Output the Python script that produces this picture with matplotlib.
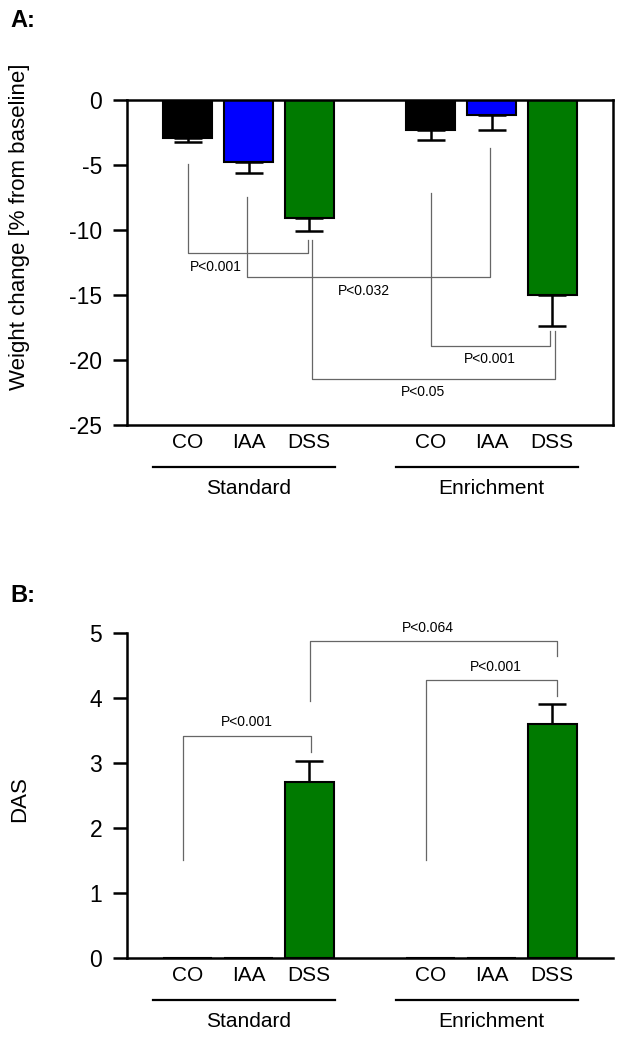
import matplotlib
matplotlib.use('Agg')
import matplotlib.pyplot as plt
import matplotlib.transforms as mtransforms

plt.rcParams['font.family'] = ['Liberation Sans', 'DejaVu Sans']
plt.rcParams['axes.unicode_minus'] = False

# data
groups = ['Standard', 'Enrichment']
treatments = ['CO', 'IAA', 'DSS']
colors = ['black', '#0000ff', '#007a00']
positions = [0, 1, 2, 4, 5, 6]

weight_mean = [-2.9, -4.75, -9.1, -2.3, -1.15, -15.0]
weight_err = [0.3, 0.85, 1.0, 0.8, 1.15, 2.4]

das_mean = [0, 0, 2.7, 0, 0, 3.6]
das_err = [0, 0, 0.33, 0, 0, 0.31]

# significance brackets: x1, y1, x2, y2, y_bar, label, label_x, label_y
weight_sig = [
    (0.0, -4.9, 1.98, -10.8, -11.8, 'P<0.001', 0.46, -12.85),
    (0.97, -7.5, 4.97, -3.7, -13.6, 'P<0.032', 2.9, -14.7),
    (4.0, -7.15, 5.97, -17.8, -18.9, 'P<0.001', 4.97, -19.9),
    (2.04, -10.8, 6.04, -17.8, -21.5, 'P<0.05', 3.88, -22.5),
]
das_sig = [
    (-0.08, 1.5, 2.03, 3.17, 3.42, 'P<0.001', 0.98, 3.63),
    (3.92, 1.5, 6.07, 4.03, 4.28, 'P<0.001', 5.07, 4.48),
    (2.02, 3.96, 6.07, 4.64, 4.88, 'P<0.064', 3.95, 5.07),
]

bar_colors = colors * len(groups)
tick_labels = treatments * len(groups)

fig = plt.figure(figsize=(6.22, 10.37), dpi=100)
axA = fig.add_axes([0.2042, 0.5902, 0.7814, 0.3134])
axB = fig.add_axes([0.2042, 0.0762, 0.7814, 0.3134])


def draw_panel(ax, means, errs, sig, downward):
    ax.bar(positions, means, width=0.8, color=bar_colors,
           edgecolor='black', linewidth=1.5, zorder=2)
    xs = [p for p, e in zip(positions, errs) if e > 0]
    ys = [m for m, e in zip(means, errs) if e > 0]
    es = [e for e in errs if e > 0]
    zeros = [0] * len(es)
    yerr = [es, zeros] if downward else [zeros, es]
    ax.errorbar(xs, ys, yerr=yerr, fmt='none', ecolor='black',
                elinewidth=1.8, capsize=10, capthick=1.8, zorder=1)
    for x1, y1, x2, y2, yb, lab, lx, ly in sig:
        ax.plot([x1, x1, x2, x2], [y1, yb, yb, y2], color='#666666',
                lw=0.9, zorder=3, clip_on=False)
        ax.text(lx, ly, lab, ha='center', va='center', fontsize=10,
                clip_on=False)

    ax.set_xlim(-1, 7)
    ax.set_xticks(positions)
    ax.set_xticklabels(tick_labels, fontsize=15)
    ax.tick_params(axis='x', length=0, pad=6)
    ax.tick_params(axis='y', direction='out', length=10, width=1.8,
                   labelsize=16.5, pad=8)
    for s in ax.spines.values():
        s.set_linewidth(1.8)

    trans = mtransforms.blended_transform_factory(ax.transData, ax.transAxes)
    for gi, g in enumerate(groups):
        left = gi * 4 - 0.57
        right = gi * 4 + 2.43
        ax.plot([left, right], [-0.129, -0.129], color='black', lw=1.6,
                transform=trans, clip_on=False)
        ax.text(gi * 4 + 1, -0.194, g, ha='center', va='center',
                fontsize=15, transform=trans)


draw_panel(axA, weight_mean, weight_err, weight_sig, True)
axA.set_ylim(-25, 0)
axA.set_yticks([0, -5, -10, -15, -20, -25])
axA.set_ylabel('Weight change [% from baseline]', fontsize=16)
axA.yaxis.set_label_coords(-0.2, 0.61)

draw_panel(axB, das_mean, das_err, das_sig, False)
axB.set_ylim(0, 5)
axB.set_yticks([0, 1, 2, 3, 4, 5])
axB.spines['top'].set_visible(False)
axB.spines['right'].set_visible(False)
axB.set_ylabel('DAS', fontsize=16)
axB.yaxis.set_label_coords(-0.2, 0.49)

fig.text(0.016, 0.98, 'A:', fontsize=17, fontweight='bold', va='center')
fig.text(0.016, 1 - 596 / 1037, 'B:', fontsize=17, fontweight='bold',
         va='center')

fig.savefig('out.png', dpi=100)
